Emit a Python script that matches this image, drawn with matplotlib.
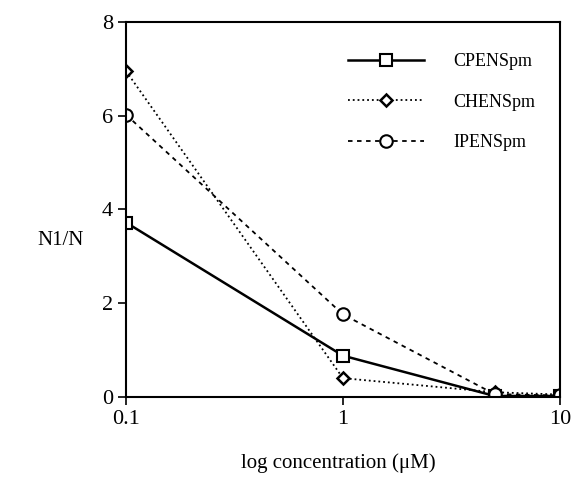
import numpy as np
import matplotlib.pyplot as plt

plt.rcParams['font.family'] = ['Liberation Serif', 'DejaVu Serif']

conc = [0.1, 1, 5, 10]
cpens = [3.72, 0.88, 0.02, 0.02]
chens = [6.95, 0.4, 0.1, 0.05]
ipens = [6.02, 1.76, 0.06, 0.03]

fig = plt.figure(figsize=(5.73, 4.87), dpi=100)
ax = fig.add_axes([0.22, 0.185, 0.757, 0.77])

ax.plot(conc, cpens, '-', color='black', lw=1.8, marker='s', ms=9,
        mfc='white', mec='black', mew=1.5, label='CPENSpm')
ax.plot(conc, chens, ':', color='black', lw=1.3, marker='D', ms=6.5,
        mfc='white', mec='black', mew=1.8, label='CHENSpm')
ax.plot(conc, ipens, '--', color='black', lw=1.3, dashes=(2.5, 2.5), marker='o', ms=9,
        mfc='white', mec='black', mew=1.5, label='IPENSpm')

ax.set_xscale('log')
ax.set_xlim(0.1, 10)
ax.set_ylim(0, 8)
ax.set_xticks([0.1, 1, 10])
ax.set_xticklabels(['0.1', '1', '10'])
ax.minorticks_off()
ax.set_yticks([0, 2, 4, 6, 8])
ax.tick_params(direction='out', length=6, width=1.2, labelsize=16, top=False, right=False)
for s in ax.spines.values():
    s.set_linewidth(1.5)

fig.text(0.105, 0.507, 'N1/N', fontsize=15, ha='center', va='center')
fig.text(0.59, 0.048, 'log concentration (\u03bcM)', fontsize=15, ha='center', va='center')

ax.legend(loc='upper right', frameon=False, fontsize=13, handlelength=4.2,
          labelspacing=1.3, handletextpad=1.6, bbox_to_anchor=(0.98, 0.96))

fig.savefig('out.png', dpi=100)
